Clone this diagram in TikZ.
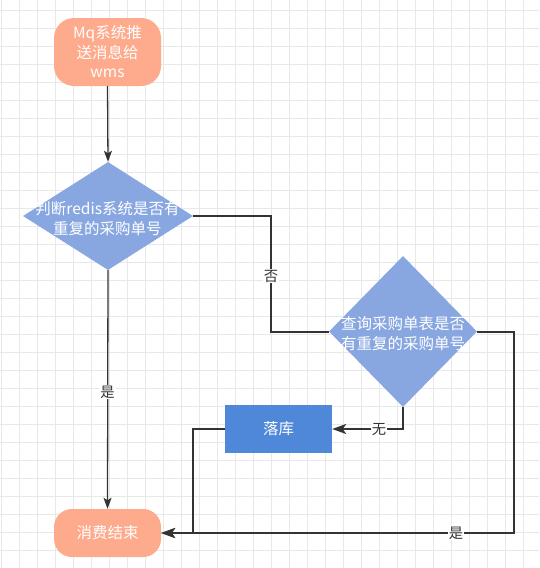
\documentclass[tikz,border=0pt]{standalone}
\usepackage{fontspec}
\newfontfamily\cjk{Noto Sans CJK SC}
\usetikzlibrary{shapes.geometric,arrows.meta}
\definecolor{salmon}{HTML}{FDAA8D}
\definecolor{decblue}{HTML}{88A7E1}
\definecolor{boxblue}{HTML}{4F87D9}
\definecolor{gridc}{RGB}{232,232,232}
\definecolor{edgec}{HTML}{333333}
\tikzset{
  gridline/.style={draw=gridc, line width=1pt},
  term/.style={draw=none, fill=salmon, rounded corners=20pt, minimum width=107pt, text=white, align=center, font=\cjk\fontsize{15.5}{19.5}\selectfont, inner sep=0pt},
  dec/.style={diamond, draw=none, fill=decblue, inner sep=0pt},
  dectext/.style={text=white, align=center, font=\cjk\fontsize{15.5}{20}\selectfont, inner sep=0pt},
  procbox/.style={draw=none, fill=boxblue, minimum width=107pt, minimum height=48pt, text=white, font=\cjk\fontsize{15.5}{19}\selectfont, inner sep=0pt},
  thinedge/.style={draw=edgec, line width=1.3pt, -{Stealth[length=11pt,width=8pt,inset=2.5pt]}},
  thickedge/.style={draw=edgec, line width=2pt},
  thickarrow/.style={thickedge, -{Stealth[length=14pt,width=10pt,inset=3.5pt]}},
  lab/.style={fill=white, text=edgec, font=\cjk\fontsize{14.3}{16}\selectfont, inner sep=1pt}
}
\begin{document}
\begin{tikzpicture}[x=1pt,y=-1pt]
\useasboundingbox (0,0) rectangle (539,568);
\fill[white] (0,0) rectangle (539,568);
\foreach \x in {1,19,...,539} \draw[gridline] (\x,0) -- (\x,568);
\foreach \y in {10,28,...,568} \draw[gridline] (0,\y) -- (539,\y);

% nodes
\node[term, minimum height=68pt] (mq) at (107.5,52) {Mq系统推\\送消息给\\wms};
\node[dec, minimum width=170pt, minimum height=108pt] (d1) at (108,216) {};
\node[dectext] (d1t) at (107.5,218.5) {判断redis系统是否有\\重复的采购单号};
\node[dec, minimum width=148pt, minimum height=151pt] (d2) at (403,331.5) {};
\node[dectext] (d2t) at (403,334) {查询采购单表是否\\有重复的采购单号};
\node[procbox] (luoku) at (278.5,429) {落库};
\node[term, rounded corners=18pt, minimum height=48pt] (fin) at (107.5,533) {消费结束};

% helper coordinates
\coordinate (k1) at (271,276);
\coordinate (k2) at (514,533);
\coordinate (k3) at (193,533);

% edges
\draw[thinedge] (mq.south) -- (d1.north);
\draw[thickedge] (d1.east) -| (k1) |- (d2.west);
\node[lab] (l1) at (k1) {否};
\draw[thickarrow] (d2.south) |- (luoku.east);
\node[lab] (l2) at (379,430) {无};
\draw[thickarrow] (luoku.west) -| (k3) -- (fin.east);
\draw[thickarrow] (d2.east) -| (k2) -- (fin.east);
\node[lab] (l3) at (456,533) {是};
\draw[thinedge] (d1.south) -- (fin.north);
\node[lab] (l4) at (107.5,392) {是};
\end{tikzpicture}
\end{document}
